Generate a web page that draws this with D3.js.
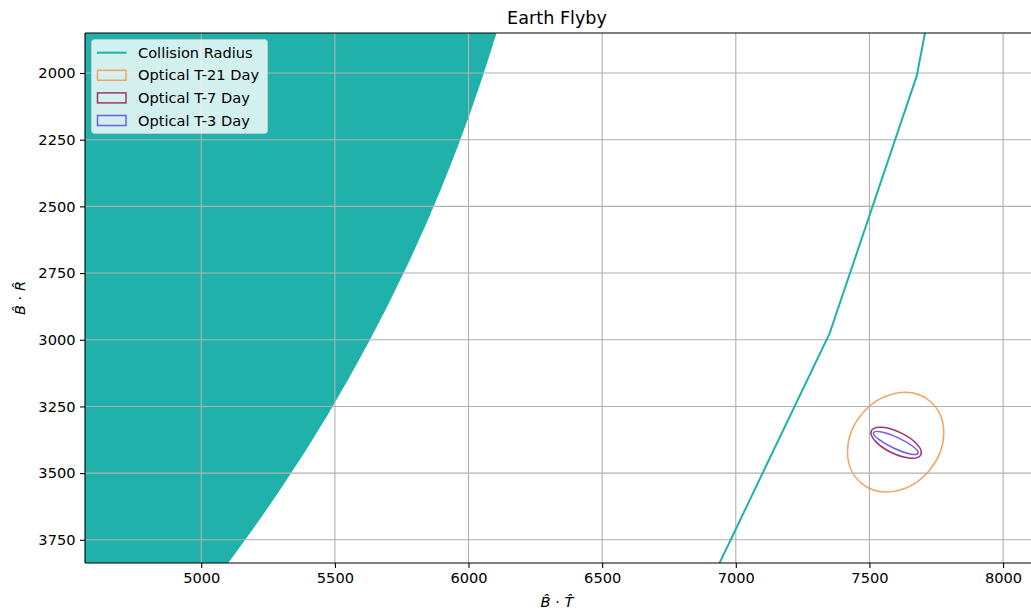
<!DOCTYPE html>
<html>
<head>
<meta charset="utf-8">
<script src="https://cdn.jsdelivr.net/npm/d3@7"></script>
<style>
  body { margin: 0; background: #fff; }
  svg { display: block; font-family: "DejaVu Sans", sans-serif; }
</style>
</head>
<body>
<svg id="chart" width="1031" height="614"></svg>
<script>
// values
const xTicks = [5000, 5500, 6000, 6500, 7000, 7500, 8000];
const yTicks = [2000, 2250, 2500, 2750, 3000, 3250, 3500, 3750];
const xDomain = [4565, 8112];
const yDomain = [1850, 3837];

const earthRadius = 6378;              // filled disc at the origin
const collisionLine = [[7868, 1014], [7677, 2011], [7351, 2976], [6912, 3894]];

const ellipseNames = ['Optical T-21 Day', 'Optical T-7 Day', 'Optical T-3 Day'];
const ellipseCenters = [[7598, 3384], [7600, 3386], [7599, 3387]];
const ellipseSemiAxes = [[200, 165], [103, 41], [92, 21]];
const ellipseAngles = [-50, 26, 25];
const ellipseColors = ['#f5a261', '#a3336d', '#6f5cf2'];
const teal = '#20b2aa';

const fs = 14.6;   // tick / legend / label font size

const svg = d3.select('#chart');
const margin = {left: 85, top: 33, right: 1033, bottom: 563};

const x = d3.scaleLinear().domain(xDomain).range([margin.left, margin.right]);
const y = d3.scaleLinear().domain(yDomain).range([margin.top, margin.bottom]);

svg.append('defs').append('clipPath').attr('id', 'clip')
  .append('rect')
  .attr('x', margin.left).attr('y', margin.top)
  .attr('width', margin.right - margin.left).attr('height', margin.bottom - margin.top);

const plot = svg.append('g').attr('clip-path', 'url(#clip)');

// filled collision disc
plot.append('circle')
  .attr('cx', x(0)).attr('cy', y(0))
  .attr('r', x(earthRadius) - x(0))
  .attr('fill', teal);

// ellipses (patches, under the grid)
ellipseNames.forEach((name, i) => {
  const c = ellipseCenters[i];
  const cx = x(c[0]), cy = y(c[1]);
  plot.append('ellipse')
    .attr('cx', cx).attr('cy', cy)
    .attr('rx', x(c[0] + ellipseSemiAxes[i][0]) - cx)
    .attr('ry', y(c[1] + ellipseSemiAxes[i][1]) - cy)
    .attr('transform', `rotate(${ellipseAngles[i]},${cx},${cy})`)
    .attr('fill', 'none')
    .attr('stroke', ellipseColors[i])
    .attr('stroke-width', 1.5);
});

// grid
const grid = plot.append('g').attr('stroke', '#b0b0b0').attr('stroke-width', 1.1);
grid.selectAll('.gx').data(xTicks).join('line')
  .attr('x1', d => x(d)).attr('x2', d => x(d))
  .attr('y1', margin.top).attr('y2', margin.bottom);
grid.selectAll('.gy').data(yTicks).join('line')
  .attr('y1', d => y(d)).attr('y2', d => y(d))
  .attr('x1', margin.left).attr('x2', margin.right);

// collision radius line
plot.append('path')
  .datum(collisionLine)
  .attr('d', d3.line().x(d => x(d[0])).y(d => y(d[1])))
  .attr('fill', 'none')
  .attr('stroke', teal)
  .attr('stroke-width', 2);

// axes
const xAxis = svg.append('g')
  .attr('transform', `translate(0,${margin.bottom})`)
  .call(d3.axisBottom(x).tickValues(xTicks).tickFormat(d3.format('d')).tickSize(5).tickPadding(4.5).tickSizeOuter(0));
const yAxis = svg.append('g')
  .attr('transform', `translate(${margin.left},0)`)
  .call(d3.axisLeft(y).tickValues(yTicks).tickFormat(d3.format('d')).tickSize(5).tickPadding(4.5).tickSizeOuter(0));
[xAxis, yAxis].forEach(a => {
  a.select('.domain').remove();
  a.selectAll('text').attr('font-size', fs).attr('fill', '#000').attr('font-family', 'DejaVu Sans');
  a.selectAll('line').attr('stroke', '#000').attr('stroke-width', 1.1);
});

// spines (right spine lies beyond the window)
const spines = svg.append('g').attr('stroke', '#000').attr('stroke-width', 1.1);
spines.append('line').attr('x1', margin.left).attr('x2', margin.left).attr('y1', margin.top).attr('y2', margin.bottom);
spines.append('line').attr('x1', margin.left).attr('x2', margin.right).attr('y1', margin.top).attr('y2', margin.top);
spines.append('line').attr('x1', margin.left).attr('x2', margin.right).attr('y1', margin.bottom).attr('y2', margin.bottom);

// title and labels
svg.append('text')
  .attr('x', 557).attr('y', 24)
  .attr('text-anchor', 'middle')
  .attr('font-size', 17.6)
  .text('Earth Flyby');

function mathLabel(sel, letter) {
  sel.append('tspan').attr('font-style', 'italic').text('B\u0302');
  sel.append('tspan').text(' \u00b7 ');
  sel.append('tspan').attr('font-style', 'italic').text(letter + '\u0302');
}

svg.append('text')
  .attr('x', 557).attr('y', 607)
  .attr('text-anchor', 'middle')
  .attr('font-size', fs)
  .call(mathLabel, 'T');

svg.append('text')
  .attr('transform', 'translate(25,298) rotate(-90)')
  .attr('text-anchor', 'middle')
  .attr('font-size', fs)
  .call(mathLabel, 'R');

// legend
const legend = svg.append('g');
legend.append('rect')
  .attr('x', 91.5).attr('y', 39.5)
  .attr('width', 176).attr('height', 94)
  .attr('rx', 3)
  .attr('fill', '#fff').attr('fill-opacity', 0.8)
  .attr('stroke', '#ccc').attr('stroke-opacity', 0.8);

const rowY = i => 52.7 + i * 22.6;
legend.append('line')
  .attr('x1', 97).attr('x2', 126.5)
  .attr('y1', rowY(0)).attr('y2', rowY(0))
  .attr('stroke', teal).attr('stroke-width', 2);
legend.append('text')
  .attr('x', 138).attr('y', rowY(0)).attr('dy', '0.35em')
  .attr('font-size', fs).text('Collision Radius');

ellipseNames.forEach((name, i) => {
  const yy = rowY(i + 1);
  legend.append('rect')
    .attr('x', 97.5).attr('y', yy - 5)
    .attr('width', 28.5).attr('height', 10)
    .attr('fill', 'none')
    .attr('stroke', ellipseColors[i]).attr('stroke-width', 1.5);
  legend.append('text')
    .attr('x', 138).attr('y', yy).attr('dy', '0.35em')
    .attr('font-size', fs).text(name);
});
</script>
</body>
</html>
